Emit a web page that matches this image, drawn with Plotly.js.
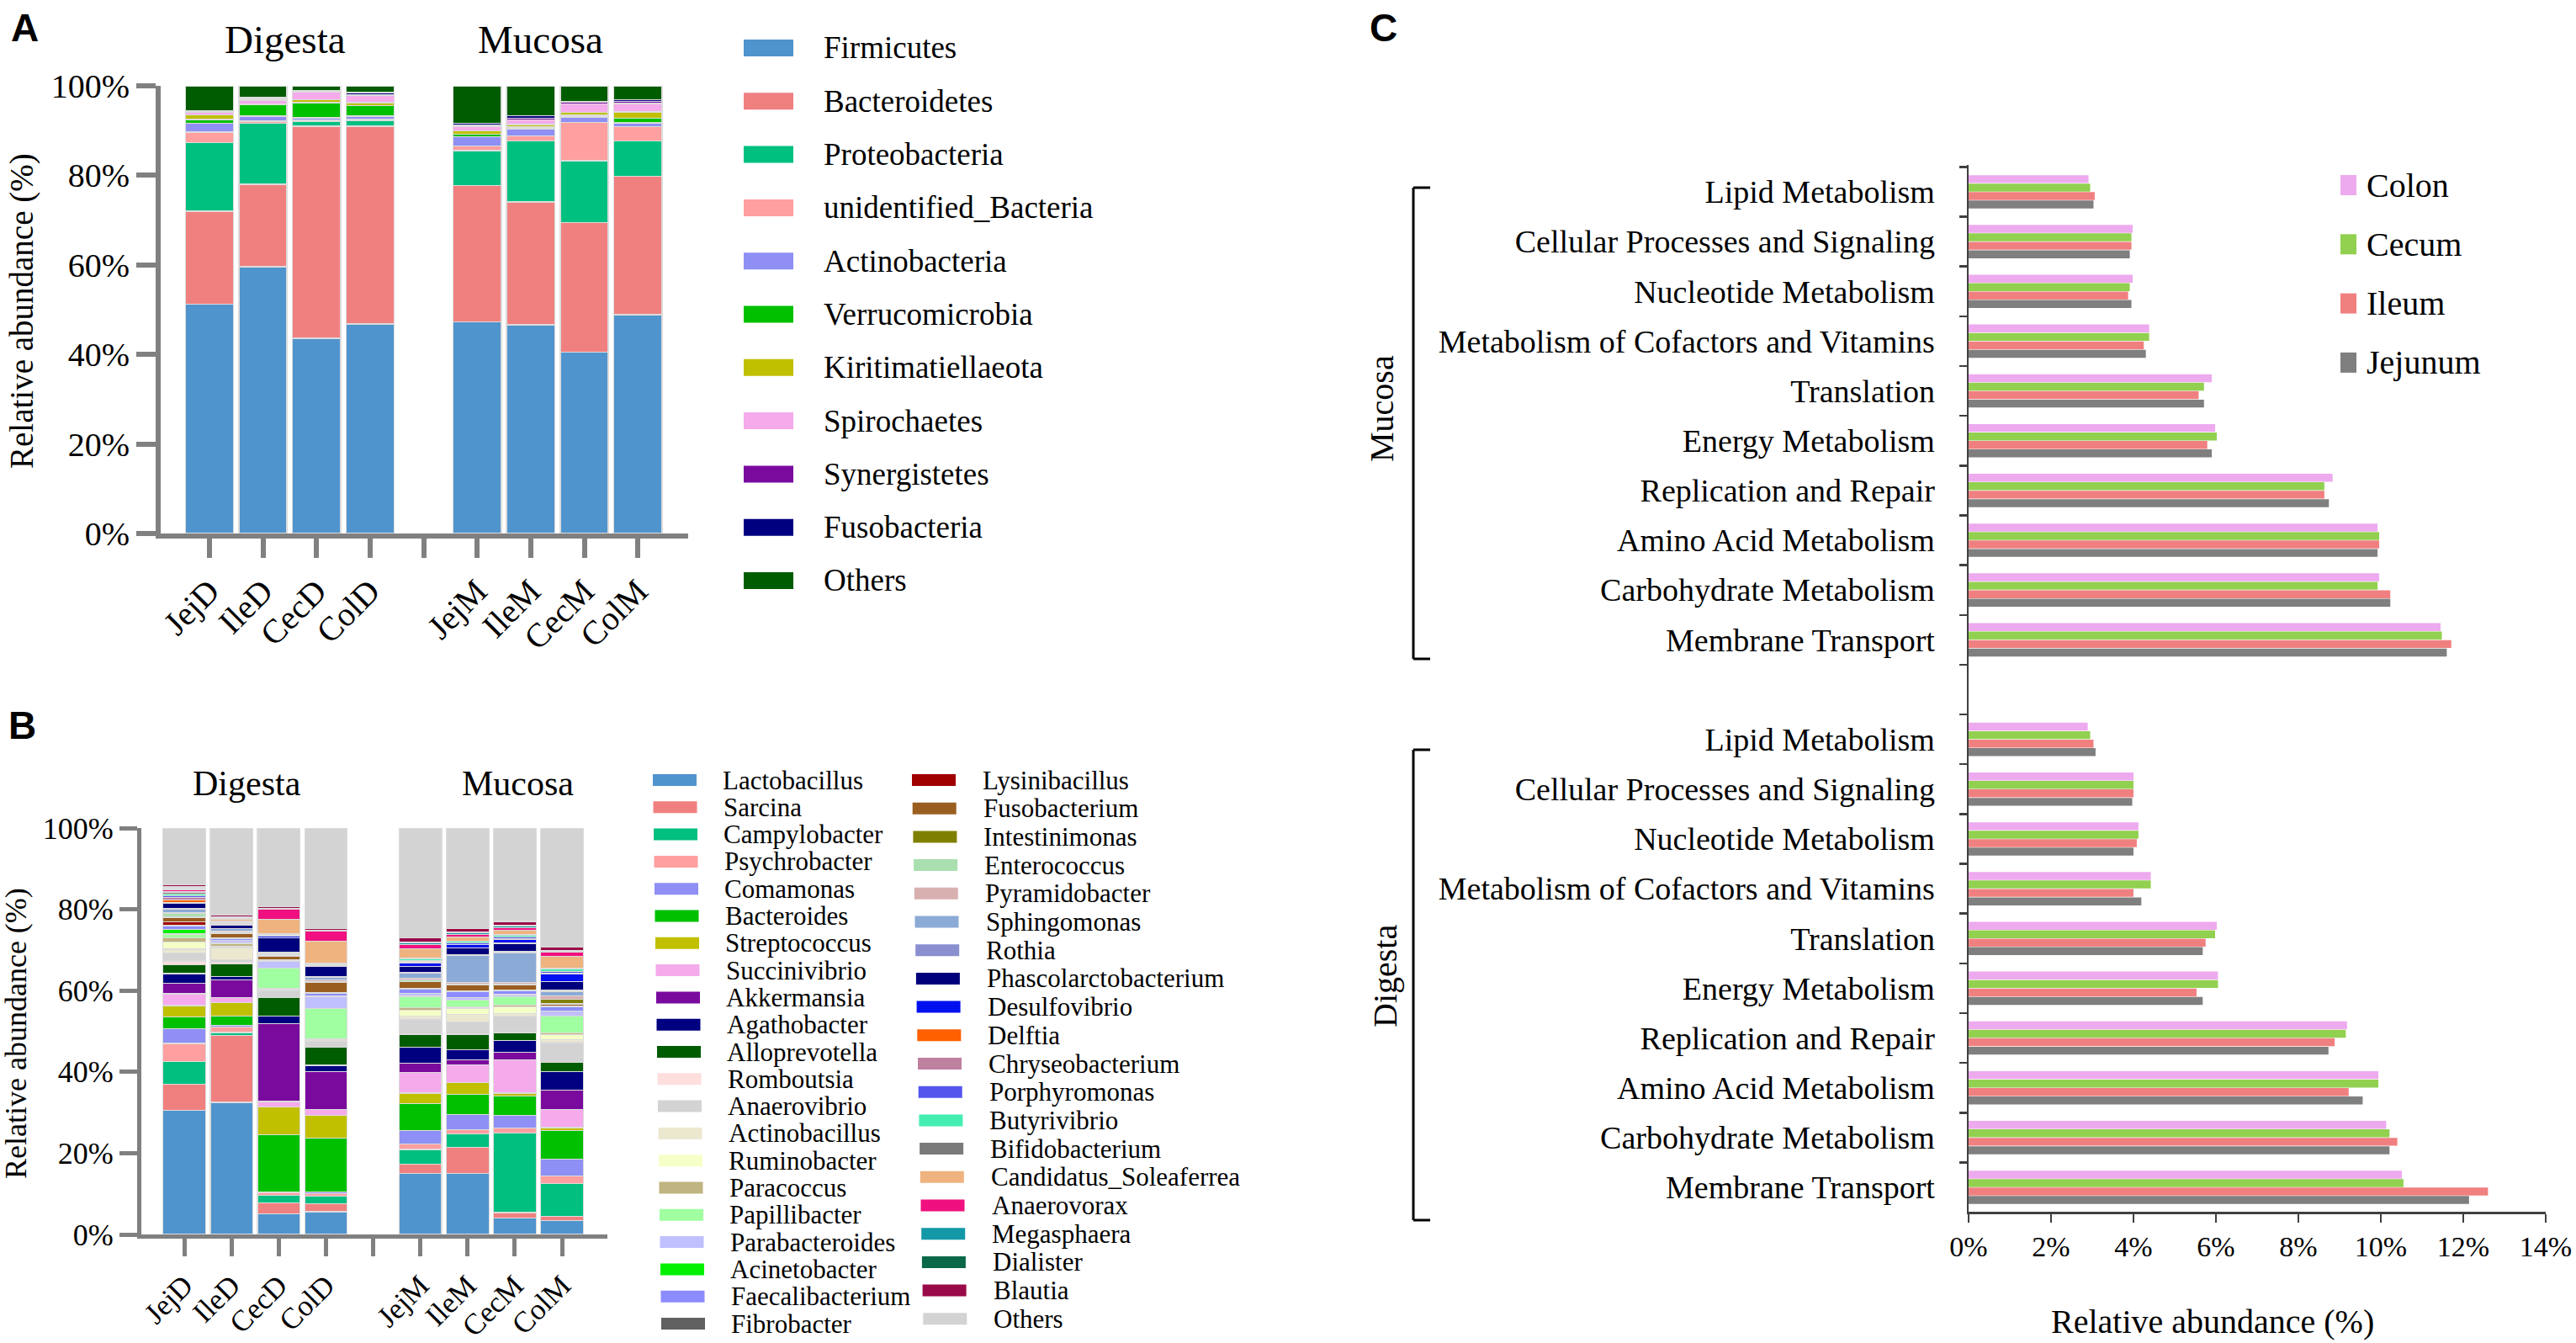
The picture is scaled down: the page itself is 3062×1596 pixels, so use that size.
<!DOCTYPE html>
<html><head><meta charset="utf-8">
<script src="https://cdn.plot.ly/plotly-3.0.1.min.js"></script>
<style>
html,body{margin:0;padding:0;background:#fff;width:3062px;height:1596px;overflow:hidden}
.pl{position:absolute;left:0;top:0;width:3062px;height:1596px}
</style>
</head><body>
<div id="ab" class="pl"></div>
<div id="cc" class="pl"></div>
<script>
// ---------------- DATA ----------------
// Panel A / B samples
const samples = ['JejD','IleD','CecD','ColD','JejM','IleM','CecM','ColM'];
const pctTicks = [0, 20, 40, 60, 80, 100];

// Panel A: phylum-level relative abundance (%), one value per sample
const phyla = ['Firmicutes','Bacteroidetes','Proteobacteria','unidentified_Bacteria','Actinobacteria','Verrucomicrobia','Kiritimatiellaeota','Spirochaetes','Synergistetes','Fusobacteria','Others'];
const phylaColors = ['#5094cd','#f08080','#00c07f','#ff9f9f','#8f8ff5','#00c000','#c0c000','#f5aaeb','#7a0a9e','#000080','#005c00'];
const firmicutes       = [51.2, 59.6, 43.6, 46.8, 47.3, 46.6, 40.5, 48.9];
const bacteroidetes    = [20.8, 18.4, 47.4, 44.2, 30.4, 27.5, 29.0, 30.9];
const proteobacteria   = [15.3, 13.6, 1.1, 1.3, 7.8, 13.6, 13.8, 7.9];
const unidentifiedBact = [2.4, 0.5, 0.2, 0.2, 1.1, 1.1, 8.5, 3.2];
const actinobacteria   = [1.9, 1.1, 0.6, 0.7, 2.0, 1.6, 1.2, 0.8];
const verrucomicrobia  = [0.9, 2.6, 3.3, 2.4, 0.6, 0.4, 0.4, 1.1];
const kiritimatiellaeota = [1.0, 0.2, 0.7, 0.6, 0.7, 0.6, 0.7, 1.4];
const spirochaetes     = [0.7, 0.8, 1.8, 1.6, 1.1, 1.0, 1.9, 1.9];
const synergistetes    = [0.1, 0.2, 0.1, 0.2, 0.2, 0.4, 0.3, 0.4];
const fusobacteria     = [0.2, 0.4, 0.1, 0.5, 0.4, 0.5, 0.1, 0.4];
const othersPhyla      = [5.5, 2.6, 1.1, 1.5, 8.4, 6.7, 3.6, 3.1];
const phylaValues = [firmicutes, bacteroidetes, proteobacteria, unidentifiedBact, actinobacteria,
  verrucomicrobia, kiritimatiellaeota, spirochaetes, synergistetes, fusobacteria, othersPhyla];

// Panel B: genus-level (%), values in genera order for each sample
const genera = ['Lactobacillus','Sarcina','Campylobacter','Psychrobacter','Comamonas','Bacteroides','Streptococcus','Succinivibrio','Akkermansia','Agathobacter','Alloprevotella','Romboutsia','Anaerovibrio','Actinobacillus','Ruminobacter','Paracoccus','Papillibacter','Parabacteroides','Acinetobacter','Faecalibacterium','Fibrobacter',
  'Lysinibacillus','Fusobacterium','Intestinimonas','Enterococcus','Pyramidobacter','Sphingomonas','Rothia','Phascolarctobacterium','Desulfovibrio','Delftia','Chryseobacterium','Porphyromonas','Butyrivibrio','Bifidobacterium','Candidatus_Soleaferrea','Anaerovorax','Megasphaera','Dialister','Blautia','Others'];
const generaColors = ['#5094cd','#f08080','#00bf7f','#ff9f9f','#8f8ff5','#00c000','#c0c000','#f5aaeb','#7a0a9e','#000080','#005c00','#ffdede','#d3d3d3','#ece8d0','#f5ffc8','#c0b480','#a0ffa0','#c0c0ff','#00f000','#8c8cff','#606060',
  '#a00000','#9a5e20','#808000','#aadfb0','#d8b0b0','#8caad6','#8a8fd0','#00007c','#0010f0','#ff6000','#c080a0','#5555ee','#44eeb0','#7a7a7a','#efb37f','#f0107f','#1398a8','#0a6848','#9a0a48','#d3d3d3'];
const jejD = [30.6,6.4,5.5,4.5,3.6,2.9,2.8,2.9,2.6,2.4,2.1, 1.0,2.0,0.9,1.7,1.0,0.9,0.3,0.9,0.9,0.2, 0.8,1.0,0.3,0.8,0.2,0.9,0.2,1.1,0.2,0.7,0.7,0.4,0.4,0.3,0.3,0.5,0.4,0.2,0.5, 14.0];
const ileD = [32.5,16.4,0.8,1.4,0.3,2.4,3.3,1.2,4.3,0.9,3.1, 0.3,0.7,3.0,0.3,0.7,0.2,0.5,0.1,0.3,0.1, 0.1,1.2,0.2,0.2,0.2,0.5,0.1,0.9,0.2,0.1,0.2,0.1,0.2,0.2,0.3,0.2,0.3,0.2,0.3, 21.5];
const cecD = [5.1,2.7,1.9,0.6,0.1,14.2,6.7,1.4,19.1,2.0,4.4, 0.1,1.6,0.3,0.1,0.2,5.0,1.7,0.1,0.1,0.1, 0.05,0.9,0.3,0.1,0.2,0.3,0.1,3.5,0.5,0.05,0.1,0.1,0.1,0.3,3.5,2.4,0.1,0.1,0.5, 19.3];
const colD = [5.6,1.9,1.9,0.7,0.3,13.3,5.6,1.5,9.3,1.5,4.4, 0.1,1.4,0.1,0.3,0.2,7.5,3.0,0.1,0.7,0.1, 0.05,2.4,0.2,0.1,0.3,0.8,0.1,2.5,0.3,0.05,0.1,0.1,0.2,0.1,5.4,2.4,0.1,0.1,0.5, 24.7];
const jejM = [15.0,2.3,3.6,1.4,3.3,6.6,2.6,5.0,2.4,3.9,3.1, 0.2,3.6,0.7,1.4,0.7,2.8,0.7,0.1,0.9,0.1, 0.05,1.7,0.1,0.3,0.5,1.2,0.2,1.5,0.8,0.05,0.1,0.4,0.5,0.1,2.4,1.0,0.4,0.3,0.9, 27.1];
const ileM = [15.0,6.5,3.2,1.1,3.7,4.9,2.9,4.5,1.1,2.6,3.7, 0.1,3.0,1.9,1.4,0.3,1.8,0.5,0.1,1.4,0.2, 0.05,1.4,0.1,0.1,0.5,6.6,0.2,1.7,0.7,0.05,0.1,0.3,0.4,0.1,1.0,0.6,0.4,0.3,0.7, 24.8];
const cecM = [4.1,1.3,19.5,1.3,3.1,4.7,0.8,8.2,1.8,2.9,1.9, 0.1,4.1,0.5,1.7,0.4,2.1,0.5,0.1,0.9,0.1, 0.05,1.2,0.1,0.1,0.5,7.3,0.2,2.1,1.0,0.05,0.1,0.4,0.4,0.1,1.2,0.6,0.3,0.2,1.0, 23.0];
const colM = [3.4,1.0,8.2,1.8,4.2,7.0,0.7,4.5,4.7,4.6,2.2, 0.1,4.8,0.7,1.2,0.5,4.1,1.2,0.1,1.0,0.1, 0.05,0.6,1.1,0.1,0.8,1.1,0.2,2.2,1.9,0.05,0.1,0.4,0.7,0.1,2.9,1.1,0.2,0.2,0.8, 29.3];
const genusSamples = [jejD, ileD, cecD, colD, jejM, ileM, cecM, colM];

// Panel C: KEGG pathways (bottom to top within each block)
const pathways = ['Membrane Transport','Carbohydrate Metabolism','Amino Acid Metabolism','Replication and Repair','Energy Metabolism','Translation','Metabolism of Cofactors and Vitamins','Nucleotide Metabolism','Cellular Processes and Signaling','Lipid Metabolism'];
const segments = ['Colon','Cecum','Ileum','Jejunum'];
const segColors = ['#eeaaee','#92d050','#f08080','#7f7f7f'];
const mucColon   = [11.45, 9.96, 9.92, 8.83, 5.98, 5.90, 4.38, 3.98, 3.98, 2.91];
const mucCecum   = [11.48, 9.92, 9.96, 8.63, 6.02, 5.71, 4.38, 3.91, 3.95, 2.95];
const mucIleum   = [11.71, 10.23, 9.96, 8.63, 5.79, 5.58, 4.25, 3.87, 3.95, 3.06];
const mucJejunum = [11.60, 10.23, 9.92, 8.74, 5.90, 5.71, 4.30, 3.95, 3.91, 3.03];
const digColon   = [10.51, 10.13, 9.94, 9.18, 6.05, 6.02, 4.42, 4.12, 4.00, 2.89];
const digCecum   = [10.55, 10.21, 9.94, 9.15, 6.05, 5.98, 4.42, 4.12, 4.00, 2.95];
const digIleum   = [12.60, 10.40, 9.22, 8.88, 5.53, 5.75, 4.00, 4.08, 4.00, 3.03];
const digJejunum = [12.14, 10.21, 9.56, 8.73, 5.68, 5.68, 4.19, 4.00, 3.97, 3.08];
const mucSeries = [mucColon, mucCecum, mucIleum, mucJejunum];
const digSeries = [digColon, digCecum, digIleum, digJejunum];

// ---------------- LAYOUT HELPERS ----------------
const W = 3062, H = 1596;
const px = x => x / W, py = y => 1 - y / H;
const SERIF = 'Liberation Serif';
const SANS = 'Liberation Sans';
const GREY = '#808080';

// sample position on the category axis (gap slot between Digesta and Mucosa)
const xpos = samples.map((s, i) => i < 4 ? i : i + 1);
const tickVals = [0,1,2,3,4,5,6,7,8];
const tickText = tickVals.map(v => v < 4 ? samples[v] : (v === 4 ? '' : samples[v - 1]));

const traces = [];
phyla.forEach((p, k) => {
  traces.push({type:'bar', x:xpos, y:phylaValues[k], xaxis:'x', yaxis:'y', name:p,
    marker:{color:phylaColors[k], line:{color:'#dcdcdc', width:1.5}}, showlegend:false, hoverinfo:'skip'});
});
genera.forEach((g, k) => {
  traces.push({type:'bar', x:xpos, y:genusSamples.map(s => s[k]), xaxis:'x2', yaxis:'y2', name:g,
    marker:{color:generaColors[k], line:{color:'#dcdcdc', width:1.2}}, showlegend:false, hoverinfo:'skip'});
});

function catAxis(domain, range, fs, tl, lw, anchor) {
  return {domain, range, anchor, tickmode:'array', tickvals:tickVals, ticktext:tickText, tickangle:-45,
    ticks:'outside', ticklen:tl, tickwidth:lw, tickcolor:GREY, showline:true, linecolor:GREY, linewidth:lw,
    showgrid:false, zeroline:false, tickfont:{family:SERIF, size:fs, color:'#000'}};
}
function pctAxis(domain, fs, tl, lw, anchor) {
  return {domain, range:[0,100], anchor, tickmode:'array', tickvals:pctTicks, ticktext:pctTicks.map(v => v + '%'),
    ticks:'outside', ticklen:tl, tickwidth:lw, tickcolor:GREY, showline:true, linecolor:GREY, linewidth:lw,
    showgrid:false, zeroline:false, tickfont:{family:SERIF, size:fs, color:'#000'}};
}

const annAB = [];
const shapesAB = [];
function txt(x, y, text, size, opts) {
  return Object.assign({xref:'paper', yref:'paper', x:px(x), y:py(y), text, showarrow:false,
    font:{family:SERIF, size, color:'#000'}, xanchor:'center', yanchor:'middle'}, opts || {});
}
annAB.push(txt(29, 33, '<b>A</b>', 46, {font:{family:SANS, size:46, color:'#000'}}));
annAB.push(txt(339, 47, 'Digesta', 47));
annAB.push(txt(642, 47, 'Mucosa', 47));
annAB.push(txt(26, 370, 'Relative abundance (%)', 39, {textangle:-90}));
annAB.push(txt(26, 862, '<b>B</b>', 46, {font:{family:SANS, size:46, color:'#000'}}));
annAB.push(txt(293, 931, 'Digesta', 42));
annAB.push(txt(615, 931, 'Mucosa', 42));
annAB.push(txt(19, 1228, 'Relative abundance (%)', 36, {textangle:-90}));

// legend A
phyla.forEach((p, i) => {
  const yc = 57 + 63.3 * i;
  shapesAB.push({type:'rect', xref:'paper', yref:'paper', x0:px(884), x1:px(943), y0:py(yc - 10), y1:py(yc + 10),
    fillcolor:phylaColors[i], line:{width:0}});
  annAB.push(txt(977, yc, p, 37, {xanchor:'left'}));
});
// legend B (two columns)
genera.forEach((g, i) => {
  let yc, sx, tx;
  if (i < 21) { yc = 927 + 32.3 * i; sx = 776 + 0.5 * i; tx = 857 + 0.5 * i; }
  else { const j = i - 21; yc = 927 + 33.7 * j; sx = 1084 + 0.7 * j; tx = 1166 + 0.7 * j; }
  shapesAB.push({type:'rect', xref:'paper', yref:'paper', x0:px(sx), x1:px(sx + 52), y0:py(yc - 7), y1:py(yc + 7),
    fillcolor:generaColors[i], line:{width:0}});
  annAB.push(txt(tx, yc, g, 31, {xanchor:'left'}));
});

const layoutAB = {
  width:W, height:H, margin:{l:0,r:0,t:0,b:0}, paper_bgcolor:'rgba(0,0,0,0)', plot_bgcolor:'rgba(0,0,0,0)',
  barmode:'stack', bargap:0.1, showlegend:false,
  xaxis: catAxis([px(191), px(818)], [-0.91, 8.94], 40, 23, 6, 'y'),
  yaxis: pctAxis([py(634), py(102)], 40, 23, 6, 'x'),
  xaxis2: catAxis([px(168), px(722)], [-0.91, 8.96], 35, 21, 5, 'y2'),
  yaxis2: pctAxis([py(1467), py(984)], 36, 21, 5, 'x2'),
  annotations: annAB, shapes: shapesAB
};
Plotly.newPlot('ab', traces, layoutAB, {displayModeBar:false, staticPlot:true});

// ---------------- PANEL C ----------------
const digPos = pathways.map((p, i) => i);
const mucPos = pathways.map((p, i) => i + pathways.length + 1);
const cTraces = [];
[3, 2, 1, 0].forEach(k => {
  cTraces.push({type:'bar', orientation:'h', y:digPos.concat(mucPos), x:digSeries[k].concat(mucSeries[k]),
    name:segments[k], marker:{color:segColors[k]}, showlegend:false, hoverinfo:'skip'});
});
const halfTicks = [];
for (let v = -0.5; v <= 20.5; v += 1) halfTicks.push(v);

const annC = [];
const shapesC = [];
annC.push(txt(1645, 33, '<b>C</b>', 46, {font:{family:SANS, size:46, color:'#000'}}));
annC.push(txt(1642, 486, 'Mucosa', 40, {textangle:-90}));
annC.push(txt(1646, 1160, 'Digesta', 40, {textangle:-90}));
annC.push(txt(2630, 1570, 'Relative abundance (%)', 40));
function bracket(y0, y1) {
  const L = {color:'#000', width:3};
  shapesC.push({type:'line', xref:'paper', yref:'paper', x0:px(1680), x1:px(1680), y0:py(y0), y1:py(y1), line:L});
  shapesC.push({type:'line', xref:'paper', yref:'paper', x0:px(1680), x1:px(1700), y0:py(y0), y1:py(y0), line:L});
  shapesC.push({type:'line', xref:'paper', yref:'paper', x0:px(1680), x1:px(1700), y0:py(y1), y1:py(y1), line:L});
}
bracket(223, 783);
bracket(891, 1450);
segments.forEach((s, i) => {
  const yc = 220 + 70.3 * i;
  shapesC.push({type:'rect', xref:'paper', yref:'paper', x0:px(2782), x1:px(2801), y0:py(yc - 12), y1:py(yc + 12),
    fillcolor:segColors[i], line:{width:0}});
  annC.push(txt(2811, yc, s, 40, {xanchor:'left'}));
});

const layoutC = {
  width:W, height:H, margin:{l:0,r:0,t:0,b:0}, paper_bgcolor:'rgba(0,0,0,0)', plot_bgcolor:'rgba(0,0,0,0)',
  barmode:'group', bargap:0.32, bargroupgap:0.06, showlegend:false,
  xaxis:{domain:[px(2340), px(3026)], range:[0,14], anchor:'y', tickmode:'linear', tick0:0, dtick:2, ticksuffix:'%',
    ticks:'outside', ticklen:10, tickwidth:2.5, tickcolor:'#404040', showline:true, linecolor:'#404040', linewidth:2.5,
    showgrid:false, zeroline:false, tickfont:{family:SERIF, size:34, color:'#000'}},
  yaxis:{domain:[py(1440), py(196)], range:[-0.49, 20.54], anchor:'x', tickmode:'array',
    tickvals:digPos.concat(mucPos), ticktext:pathways.concat(pathways), ticks:'', ticklabelstandoff:30,
    showline:true, linecolor:'#404040', linewidth:2.5, showgrid:false, zeroline:false,
    tickfont:{family:SERIF, size:38, color:'#000'},
    minor:{tickmode:'array', tickvals:halfTicks, ticks:'outside', ticklen:9, tickwidth:2.5, tickcolor:'#404040', showgrid:false}},
  annotations: annC, shapes: shapesC
};
Plotly.newPlot('cc', cTraces, layoutC, {displayModeBar:false, staticPlot:true});
</script>
</body></html>
